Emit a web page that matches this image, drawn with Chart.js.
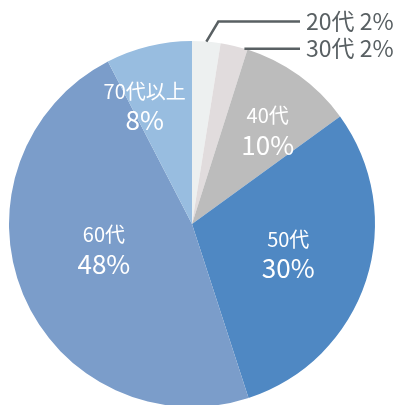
<!DOCTYPE html>
<html>
<head>
<meta charset="utf-8">
<script src="https://cdn.jsdelivr.net/npm/chart.js@4.4.0/dist/chart.umd.min.js"></script>
<style>
	html, body { margin: 0; padding: 0; background: #fff; overflow: hidden; }
	#wrap { width: 403px; height: 405px; overflow: hidden; }
</style>
</head>
<body>
<div id="wrap"><canvas id="myChart" width="403" height="407"></canvas></div>
<script>
var _labels = ['20代', '30代', '40代', '50代', '60代', '70代以上'];
var _values = [2.5, 2.4, 10.1, 30.0, 47.4, 7.6];
var _pctLabels = ['2%', '2%', '10%', '30%', '48%', '8%'];
var _colors = ['#edf0f0', '#e1dcdd', '#bcbcbc', '#4f88c3', '#7b9dca', '#98bde0'];

var FONT = '"Noto Sans CJK JP", "Noto Sans", sans-serif';

// inside labels: radius factor / angle nudge (deg) per slice index
var _inside = {
	2: { r: 0.66, a: 3 },
	3: { r: 0.55, a: -1 },
	4: { r: 0.50, a: 7 },
	5: { r: 0.70, a: -8 }
};

var labelPlugin = {
	id: 'labelPlugin',
	afterDatasetsDraw: function(chart) {
		var ctx = chart.ctx;
		var arcs = chart.getDatasetMeta(0).data;
		ctx.save();

		arcs.forEach(function(arc, i) {
			var p = arc.getProps(['x', 'y', 'startAngle', 'endAngle', 'outerRadius']);
			var mid = (p.startAngle + p.endAngle) / 2;

			if (_inside[i]) {
				var a = mid + _inside[i].a * Math.PI / 180;
				var r = p.outerRadius * _inside[i].r;
				var cx = p.x + Math.cos(a) * r;
				var cy = p.y + Math.sin(a) * r;
				ctx.fillStyle = '#ffffff';
				ctx.textAlign = 'center';
				ctx.textBaseline = 'middle';
				ctx.font = '20px ' + FONT;
				ctx.fillText(_labels[i], cx, cy - 14);
				ctx.font = '26px ' + FONT;
				ctx.fillText(_pctLabels[i], cx, cy + 15);
			}
		});

		// leader lines for the small slices
		var endX = 300;
		ctx.strokeStyle = '#596063';
		ctx.lineWidth = 2.5;
		ctx.fillStyle = '#596063';
		ctx.font = '23px ' + FONT;
		ctx.textAlign = 'left';
		ctx.textBaseline = 'middle';

		var p0 = arcs[0].getProps(['x', 'y', 'startAngle', 'endAngle', 'outerRadius']);
		var m0 = (p0.startAngle + p0.endAngle) / 2;
		var sx = p0.x + Math.cos(m0) * p0.outerRadius;
		var sy = p0.y + Math.sin(m0) * p0.outerRadius;
		ctx.beginPath();
		ctx.moveTo(sx, sy);
		ctx.lineTo(sx + 12, sy - 20);
		ctx.lineTo(endX, sy - 20);
		ctx.stroke();
		ctx.fillText(_labels[0] + ' ' + _pctLabels[0], endX + 6, sy - 20);

		var p1 = arcs[1].getProps(['x', 'y', 'startAngle', 'endAngle', 'outerRadius']);
		var m1 = p1.endAngle - 1 * Math.PI / 180;
		var tx = p1.x + Math.cos(m1) * p1.outerRadius;
		var ty = p1.y + Math.sin(m1) * p1.outerRadius;
		ctx.beginPath();
		ctx.moveTo(tx, ty);
		ctx.lineTo(endX, ty);
		ctx.stroke();
		ctx.fillText(_labels[1] + ' ' + _pctLabels[1], endX + 6, ty);

		ctx.restore();
	}
};

var myChart = new Chart(document.getElementById('myChart'), {
	type: 'pie',
	data: {
		labels: _labels,
		datasets: [{
			data: _values,
			backgroundColor: _colors,
			borderWidth: 0,
			hoverOffset: 0
		}]
	},
	options: {
		responsive: false,
		animation: false,
		layout: {
			padding: { left: 9, right: 28, top: 41, bottom: 0 }
		},
		plugins: {
			legend: { display: false },
			tooltip: { enabled: false }
		}
	},
	plugins: [labelPlugin]
});
</script>
</body>
</html>
